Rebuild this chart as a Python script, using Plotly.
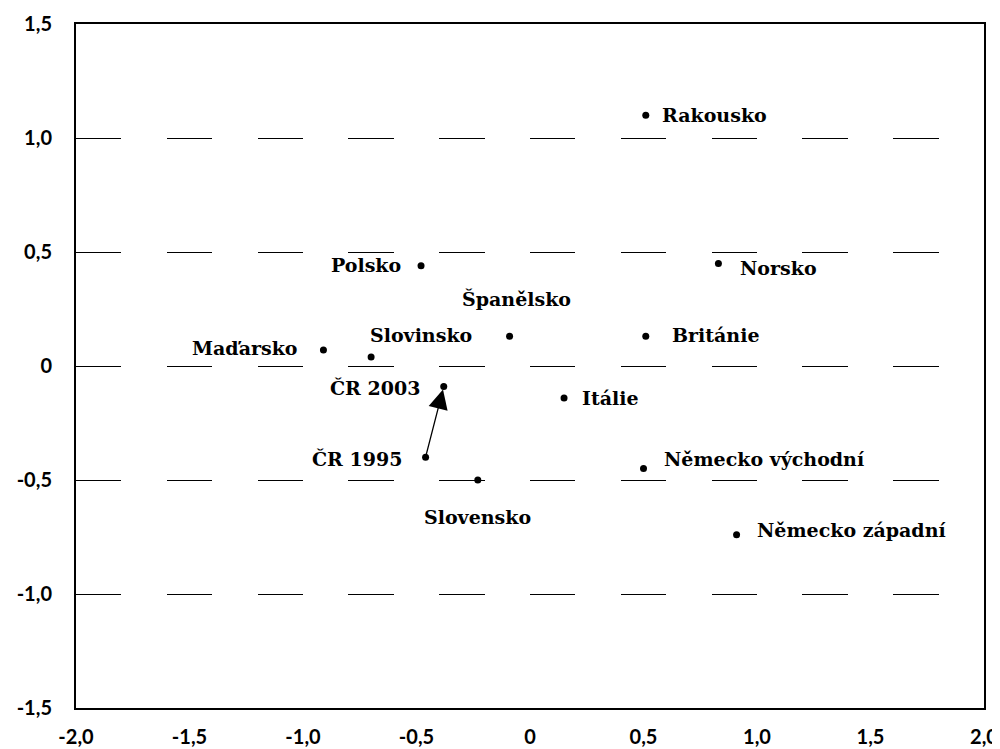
import plotly.graph_objects as go

countries = ["Rakousko", "Norsko", "Polsko", "Španělsko", "Británie", "Maďarsko",
             "Slovinsko", "ČR 2003", "Itálie", "ČR 1995", "Slovensko",
             "Německo východní", "Německo západní"]
x_vals = [0.51, 0.83, -0.48, -0.09, 0.51, -0.91, -0.70, -0.38, 0.15, -0.46, -0.23, 0.50, 0.91]
y_vals = [1.10, 0.45, 0.44, 0.13, 0.13, 0.07, 0.04, -0.09, -0.14, -0.40, -0.50, -0.45, -0.74]

# label placement style: (xanchor, yanchor, xshift, yshift)
label_pos = {
    "Rakousko": ("left", "middle", 14, 0),
    "Norsko": ("left", "middle", 20, -5),
    "Polsko": ("right", "middle", -18, 1),
    "Španělsko": ("center", "bottom", 7, 24),
    "Británie": ("left", "middle", 24, 1),
    "Maďarsko": ("right", "middle", -24, 2),
    "Slovinsko": ("center", "bottom", 50, 9),
    "ČR 2003": ("right", "middle", -22, -1),
    "Itálie": ("left", "middle", 16, 0),
    "ČR 1995": ("right", "middle", -22, -2),
    "Slovensko": ("center", "top", 0, -24),
    "Německo východní": ("left", "middle", 18, 10),
    "Německo západní": ("left", "middle", 18, 5),
}

xtick_vals = [-2.0, -1.5, -1.0, -0.5, 0, 0.5, 1.0, 1.5, 2.0]
xtick_text = ["-2,0", "-1,5", "-1,0", "-0,5", "0", "0,5", "1,0", "1,5", "2,0"]
ytick_vals = [-1.5, -1.0, -0.5, 0, 0.5, 1.0, 1.5]
ytick_text = ["-1,5", "-1,0", "-0,5", "0", "0,5", "1,0", "1,5"]

fig = go.Figure()
fig.add_trace(go.Scatter(x=x_vals, y=y_vals, mode="markers",
                         marker=dict(color="black", size=7), hoverinfo="text",
                         text=countries, showlegend=False, cliponaxis=False))

label_font = dict(family="DejaVu Serif", size=19, color="black", weight="bold")
for name, xv, yv in zip(countries, x_vals, y_vals):
    xa, ya, xs, ys = label_pos[name]
    fig.add_annotation(x=xv, y=yv, text=name, showarrow=False, xanchor=xa, yanchor=ya,
                       xshift=xs, yshift=ys, font=label_font)

# arrow from ČR 1995 to ČR 2003
i95 = countries.index("ČR 1995")
i03 = countries.index("ČR 2003")
fig.add_annotation(x=x_vals[i03], y=y_vals[i03], ax=x_vals[i95], ay=y_vals[i95],
                   xref="x", yref="y", axref="x", ayref="y", text="",
                   showarrow=True, arrowhead=2, arrowsize=3, arrowwidth=1.3,
                   arrowcolor="black", standoff=3)

tick_font = dict(family="Lato", size=20, color="black", weight="bold")
fig.update_xaxes(range=[-2, 2], tickvals=xtick_vals, ticktext=xtick_text,
                 showgrid=False, zeroline=False, showline=True, mirror=True,
                 linecolor="black", linewidth=2, ticks="", ticklabelstandoff=10,
                 tickfont=tick_font, automargin=False)
fig.update_yaxes(range=[-1.5, 1.5], tickvals=ytick_vals, ticktext=ytick_text,
                 showgrid=True, gridcolor="black", gridwidth=1, griddash="45.4px,45.4px",
                 zeroline=False, showline=True, mirror=True,
                 linecolor="black", linewidth=2, ticks="", ticklabelstandoff=18,
                 tickfont=tick_font, automargin=False)

# page body adds an 8px margin, so the figure is sized/margined to compensate
fig.update_layout(width=992, height=741, margin=dict(l=68, r=16, t=16, b=41),
                  plot_bgcolor="white", paper_bgcolor="white")

fig.write_html("out.html")
